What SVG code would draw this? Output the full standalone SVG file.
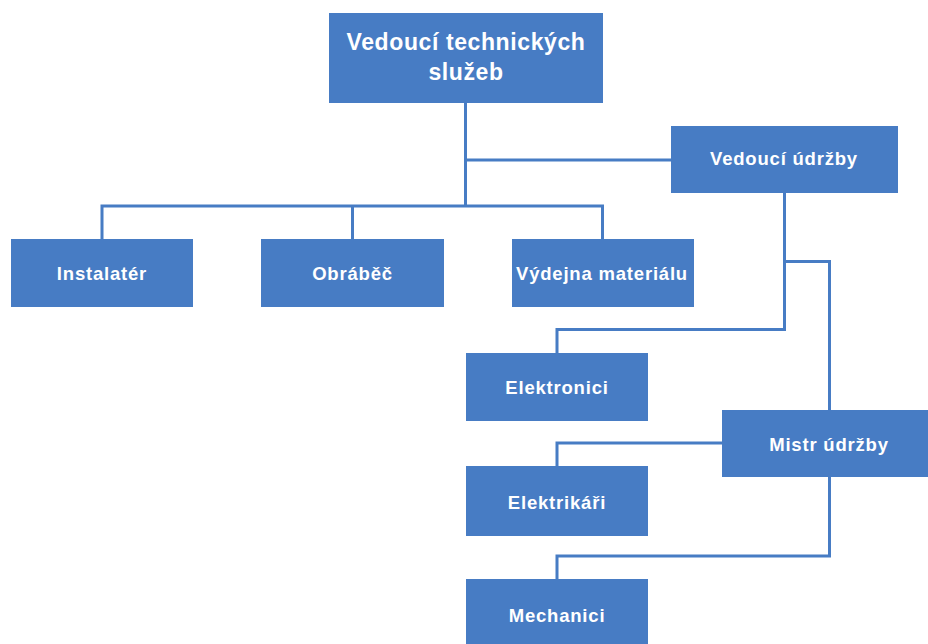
<svg xmlns="http://www.w3.org/2000/svg" width="928" height="644" viewBox="0 0 928 644">
  <style>
    .box { fill: #477cc4; }
    .lbl { fill: #ffffff; font-family: "Liberation Sans", Arial, sans-serif; font-weight: bold; font-size: 18.5px; text-anchor: middle; letter-spacing: 0.8px; }
    .big { font-size: 23px; letter-spacing: 0.6px; }
    .wire { fill: none; stroke: #477cc4; stroke-width: 3; stroke-linejoin: miter; }
  </style>
  <rect width="928" height="644" fill="#ffffff"/>

  <!-- connectors -->
  <g id="connectors">
    <path class="wire" d="M465.5,102 V206"/>
    <path class="wire" d="M465.5,160 H671"/>
    <path class="wire" d="M102,240 V206 H602.5 V240"/>
    <path class="wire" d="M352.5,206 V240"/>
    <path class="wire" d="M784.5,192 V329.5 H557 V353"/>
    <path class="wire" d="M784.5,261.5 H829.5 V410"/>
    <path class="wire" d="M722,443 H557 V467"/>
    <path class="wire" d="M829.5,476 V556 H557 V580"/>
  </g>

  <g id="node-vedouci-technickych-sluzeb">
    <rect class="box" x="329" y="13" width="274" height="90"/>
    <text class="lbl big" x="466" y="50">Vedoucí technických</text>
    <text class="lbl big" x="466" y="80">služeb</text>
  </g>
  <g id="node-vedouci-udrzby">
    <rect class="box" x="671" y="126" width="227" height="67"/>
    <text class="lbl" x="784" y="165">Vedoucí údržby</text>
  </g>
  <g id="node-instalater">
    <rect class="box" x="11" y="239" width="182" height="68"/>
    <text class="lbl" x="102" y="280">Instalatér</text>
  </g>
  <g id="node-obrabec">
    <rect class="box" x="261" y="239" width="183" height="68"/>
    <text class="lbl" x="352.5" y="280">Obráběč</text>
  </g>
  <g id="node-vydejna-materialu">
    <rect class="box" x="512" y="239" width="182" height="68"/>
    <text class="lbl" x="602" y="280">Výdejna materiálu</text>
  </g>
  <g id="node-elektronici">
    <rect class="box" x="466" y="353" width="182" height="68"/>
    <text class="lbl" x="557" y="394">Elektronici</text>
  </g>
  <g id="node-mistr-udrzby">
    <rect class="box" x="722" y="410" width="210" height="67"/>
    <text class="lbl" x="829" y="451">Mistr údržby</text>
  </g>
  <g id="node-elektrikari">
    <rect class="box" x="466" y="466" width="182" height="70"/>
    <text class="lbl" x="557" y="509">Elektrikáři</text>
  </g>
  <g id="node-mechanici">
    <rect class="box" x="466" y="579" width="182" height="70"/>
    <text class="lbl" x="557" y="622">Mechanici</text>
  </g>
</svg>
